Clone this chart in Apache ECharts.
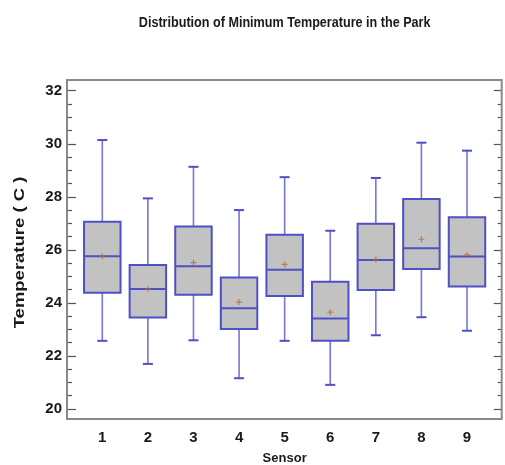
<!DOCTYPE html>
<html>
<head>
<meta charset="utf-8">
<script src="https://cdn.jsdelivr.net/npm/echarts@6/dist/echarts.min.js"></script>
<style>
  html, body { margin: 0; padding: 0; background: #fff; }
  #chart { width: 505px; height: 465px; }
</style>
</head>
<body>
<div id="chart"></div>
<script>
// Minimum temperature per sensor: whisker ends, quartiles, median and mean (°C)
const sensors      = ['1', '2', '3', '4', '5', '6', '7', '8', '9'];
const whiskerLow   = [22.57, 21.70, 22.59, 21.16, 22.57, 20.91, 22.78, 23.46, 22.95];
const quartile1    = [24.38, 23.45, 24.31, 23.02, 24.26, 22.57, 24.49, 25.28, 24.62];
const medians      = [25.76, 24.52, 25.38, 23.80, 25.25, 23.41, 25.62, 26.06, 25.75];
const quartile3    = [27.06, 25.43, 26.88, 24.96, 26.57, 24.80, 26.98, 27.92, 27.23];
const whiskerHigh  = [30.14, 27.94, 29.13, 27.50, 28.74, 26.72, 28.71, 30.04, 29.74];
const means        = [25.76, 24.52, 25.52, 24.03, 25.45, 23.65, 25.64, 26.40, 25.81];
const yTicks       = [20, 22, 24, 26, 28, 30, 32];

// Layout of the plotting frame and the inner data area
const frame = { left: 67, top: 80, right: 501.7, bottom: 419 };
const plot  = { left: 79.5, right: 489.8, top: 90.7, bottom: 409 };
const W = 505, H = 465;

const boxColor = '#4f4fc6';
const whiskerColor = '#7676d6';
const boxFill = '#c2c2c2';
const meanColor = '#b06a3a';
const axisGray = '#8a8a8a';
const textColor = '#1a1a1a';
const sans = '"Liberation Sans", Arial, sans-serif';

const boxData = sensors.map((s, i) => [i, whiskerLow[i], quartile1[i], medians[i], quartile3[i], whiskerHigh[i]]);
const meanData = sensors.map((s, i) => [i, means[i]]);

function renderBox(params, api) {
  const i = api.value(0);
  const band = api.size([1, 0])[0];
  const half = band * 0.4;
  const cap = band * 0.11;
  const lo = api.coord([i, api.value(1)]);
  const q1 = api.coord([i, api.value(2)]);
  const md = api.coord([i, api.value(3)]);
  const q3 = api.coord([i, api.value(4)]);
  const hi = api.coord([i, api.value(5)]);
  const x = lo[0];
  const wStyle = { stroke: whiskerColor, lineWidth: 1.6 };
  const bStyle = { stroke: boxColor, lineWidth: 2 };
  return {
    type: 'group',
    children: [
      { type: 'line', shape: { x1: x, y1: q3[1], x2: x, y2: hi[1] }, style: wStyle },
      { type: 'line', shape: { x1: x, y1: q1[1], x2: x, y2: lo[1] }, style: wStyle },
      { type: 'line', shape: { x1: x - cap, y1: hi[1], x2: x + cap, y2: hi[1] }, style: bStyle },
      { type: 'line', shape: { x1: x - cap, y1: lo[1], x2: x + cap, y2: lo[1] }, style: bStyle },
      { type: 'rect', shape: { x: x - half, y: q3[1], width: half * 2, height: q1[1] - q3[1] },
        style: { fill: boxFill, stroke: boxColor, lineWidth: 2 } },
      { type: 'line', shape: { x1: x - half, y1: md[1], x2: x + half, y2: md[1] }, style: bStyle }
    ]
  };
}

const chart = echarts.init(document.getElementById('chart'), null, { renderer: 'canvas' });

const tickStyle = { color: '#555', width: 1.2 };

chart.setOption({
  animation: false,
  backgroundColor: '#fff',
  grid: {
    left: plot.left, right: W - plot.right, top: plot.top, bottom: H - plot.bottom,
    containLabel: false, outerBoundsMode: 'none'
  },
  graphic: [
    {
      type: 'text', x: (plot.left + plot.right) / 2, y: 23, scaleX: 0.9,
      style: {
        text: 'Distribution of Minimum Temperature in the Park',
        font: 'bold 14px ' + sans, fill: textColor, align: 'center', verticalAlign: 'middle'
      }
    },
    {
      // vertical axis title, stretched along its reading direction
      type: 'text', x: 20, y: (frame.top + frame.bottom) / 2 + 3, rotation: Math.PI / 2, scaleX: 1.32,
      style: {
        text: 'Temperature ( C )',
        font: 'bold 14px ' + sans, fill: textColor, align: 'center', verticalAlign: 'middle'
      }
    },
    {
      type: 'rect', z: 100, silent: true,
      shape: { x: frame.left, y: frame.top, width: frame.right - frame.left, height: frame.bottom - frame.top },
      style: { fill: 'none', stroke: axisGray, lineWidth: 2 }
    }
  ],
  xAxis: {
    type: 'category',
    data: sensors,
    boundaryGap: true,
    axisLine: { show: false },
    axisTick: { show: false },
    axisLabel: { margin: 21, color: textColor, fontWeight: 'bold', fontSize: 15, fontFamily: sans },
    name: 'Sensor',
    nameLocation: 'middle',
    nameGap: 43,
    nameTextStyle: { color: textColor, fontWeight: 'bold', fontSize: 13, fontFamily: sans }
  },
  yAxis: [
    {
      type: 'value', position: 'left', offset: plot.left - frame.left,
      min: 20, max: 32, interval: 2,
      axisLine: { show: false },
      axisTick: { show: true, inside: true, length: 9, lineStyle: tickStyle },
      minorTick: { show: true, splitNumber: 4, length: 5, lineStyle: tickStyle },
      splitLine: { show: false },
      axisLabel: {
        margin: 5, color: textColor, fontWeight: 'bold', fontSize: 15, fontFamily: sans,
        formatter: v => (yTicks.indexOf(v) >= 0 ? String(v) : '')
      }
    },
    {
      type: 'value', position: 'right', offset: frame.right - plot.right,
      min: 20, max: 32, interval: 2,
      axisLine: { show: false },
      axisTick: { show: true, inside: true, length: 8, lineStyle: tickStyle },
      minorTick: { show: true, splitNumber: 4, length: 4, lineStyle: tickStyle },
      splitLine: { show: false },
      axisLabel: { show: false }
    }
  ],
  series: [
    {
      type: 'custom',
      name: 'Temperature',
      renderItem: renderBox,
      encode: { x: 0, y: [1, 2, 3, 4, 5] },
      data: boxData,
      z: 2
    },
    {
      type: 'scatter',
      name: 'Mean',
      symbol: 'path://M0,4h10v2h-10z M4,0h2v10h-2z',
      symbolSize: 6,
      itemStyle: { color: meanColor },
      data: meanData,
      z: 5
    }
  ]
});
</script>
</body>
</html>
